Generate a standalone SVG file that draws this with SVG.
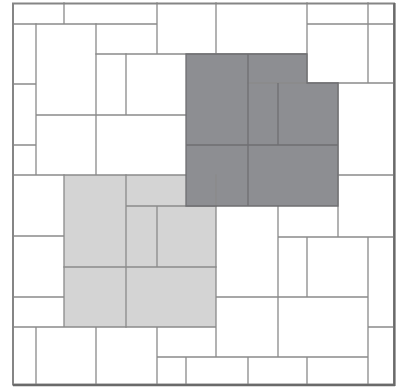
<svg xmlns="http://www.w3.org/2000/svg" width="409" height="390" viewBox="0 0 409 390">
<style>
.ln{stroke:#8a8a8a;stroke-width:1.3;fill:none;stroke-linecap:square}
.dk{stroke:#6f6f72;stroke-width:1.3;fill:none}
</style>
<rect x="0" y="0" width="409" height="390" fill="#ffffff"/>
<g id="fills">
<rect x="64" y="175" width="152" height="152" fill="#d4d4d4"/>
<path d="M186 54H307V83H338V206H186Z" fill="#8d8e92"/>
</g>
<g id="joints" class="ln">
<path d="M64 3V24M13 24H157M157 3V54M216 3V54M96 54H307M307 3V83M307 24H394M368 3V83M248 83H394"/>
<path d="M36 24V175M13 84H36M13 145H36M96 24V175M126 54V115M36 115H186M13 175H186M338 175H394"/>
<path d="M338 83V237M278 237H394M216 206V357M278 206V357M307 237V297M216 297H368M368 237V384M368 327H394M157 357H368M248 357V384M307 357V384M186 357V384M157 327V384M96 327V384M36 327V384M13 327H216M13 236H64M13 297H64M64 175V327"/>
<path d="M126 175V327M126 206H216M157 206V267M64 267H216M216 175V206"/>
</g>
<g id="dark-joints" class="dk">
<path d="M186 54H307V83H338V206H186Z"/>
<path d="M248 54V206M278 83V145M186 145H338"/>
</g>
<g id="frame">
<rect x="13" y="3.5" width="381" height="381" fill="none" stroke="#858585" stroke-width="2"/>
<path d="M394.5 3V386M13 385.2H395" stroke="#6a6a6a" stroke-width="2.2" fill="none"/>
</g>
</svg>
